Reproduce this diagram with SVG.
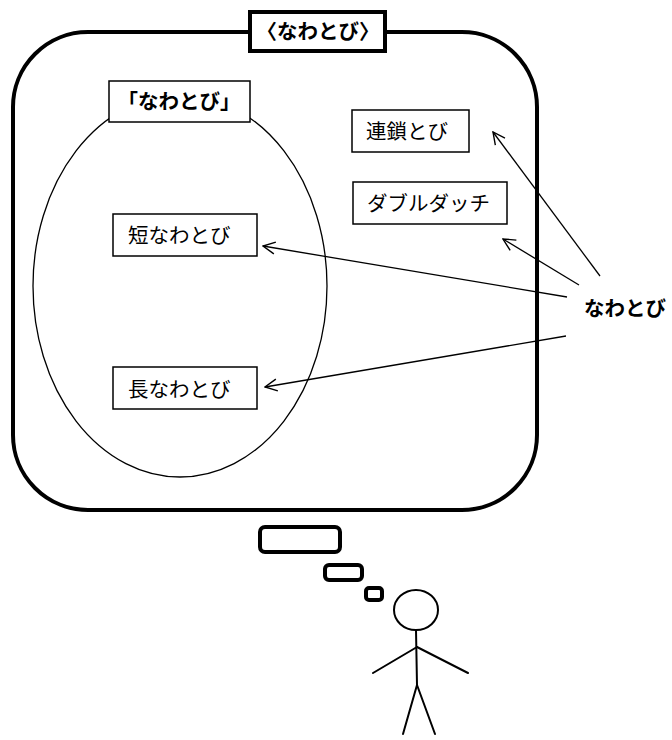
<svg xmlns="http://www.w3.org/2000/svg" width="672" height="740" viewBox="0 0 672 740">
  <defs>
    <marker id="open-arrow" viewBox="0 0 14 14" refX="13" refY="7" markerWidth="14" markerHeight="14" markerUnits="userSpaceOnUse" orient="auto">
      <path d="M1,1 L13,7 L1,13" fill="none" stroke="#000" stroke-width="1.4"/>
    </marker>
    <style>
      .frame { fill: none; stroke: #000; stroke-width: 4; }
      .tag { fill: #fff; stroke: #000; stroke-width: 4; }
      .box { fill: #fff; stroke: #000; stroke-width: 1.5; }
      .label { font-family: "Noto Sans CJK JP", "Noto Sans", sans-serif; font-size: 20.5px; fill: #000; }
      .bold { font-weight: bold; }
      .link { fill: none; stroke: #000; stroke-width: 1.3; }
      .bubble { fill: #fff; stroke: #000; stroke-width: 4; }
      .figure { fill: none; stroke: #000; stroke-width: 2; stroke-linecap: round; }
    </style>
  </defs>

  <rect width="672" height="740" fill="#fff"/>

  <!-- outer thought frame -->
  <g id="frame">
    <rect class="frame" x="13" y="32" width="524" height="478" rx="75" ry="75"/>
  </g>

  <!-- set boundary of the concept -->
  <g id="concept-set">
    <ellipse cx="180" cy="286" rx="147" ry="191" fill="none" stroke="#000" stroke-width="1.3"/>
  </g>

  <g id="title">
    <rect class="tag" x="250" y="12" width="135" height="39"/>
    <text class="label bold" x="318" y="39" text-anchor="middle">〈なわとび〉</text>
  </g>

  <g id="concept">
    <rect class="box" x="109" y="81" width="141" height="41"/>
    <text class="label bold" x="179" y="109" text-anchor="middle">「なわとび」</text>
  </g>

  <g id="short-rope">
    <rect class="box" x="113" y="214" width="144" height="42"/>
    <text class="label" x="128" y="243">短なわとび</text>
  </g>

  <g id="long-rope">
    <rect class="box" x="113" y="367" width="144" height="42"/>
    <text class="label" x="128" y="397">長なわとび</text>
  </g>

  <g id="chain-jump">
    <rect class="box" x="352" y="110" width="117" height="42"/>
    <text class="label" x="366" y="139">連鎖とび</text>
  </g>

  <g id="double-dutch">
    <rect class="box" x="353" y="182" width="154" height="42"/>
    <text class="label" x="367" y="211">ダブルダッチ</text>
  </g>

  <g id="word">
    <text class="label bold" x="584" y="316">なわとび</text>
  </g>

  <g id="connectors">
    <line class="link" x1="600" y1="276" x2="493" y2="132" marker-end="url(#open-arrow)"/>
    <line class="link" x1="579" y1="285" x2="503" y2="239" marker-end="url(#open-arrow)"/>
    <line class="link" x1="567" y1="297" x2="263" y2="246" marker-end="url(#open-arrow)"/>
    <line class="link" x1="566" y1="336" x2="265" y2="387" marker-end="url(#open-arrow)"/>
  </g>

  <g id="bubbles">
    <rect class="bubble" x="260" y="527" width="80" height="25" rx="5"/>
    <rect class="bubble" x="325" y="565" width="37" height="15" rx="4"/>
    <rect class="bubble" x="366" y="588" width="16" height="12" rx="3"/>
  </g>

  <g id="person">
    <ellipse class="figure" cx="416" cy="610" rx="22" ry="20"/>
    <line class="figure" x1="416" y1="630" x2="417" y2="685"/>
    <line class="figure" x1="417" y1="647" x2="373" y2="673"/>
    <line class="figure" x1="417" y1="647" x2="468" y2="673"/>
    <line class="figure" x1="417" y1="685" x2="403" y2="734"/>
    <line class="figure" x1="417" y1="685" x2="435" y2="734"/>
  </g>
</svg>
